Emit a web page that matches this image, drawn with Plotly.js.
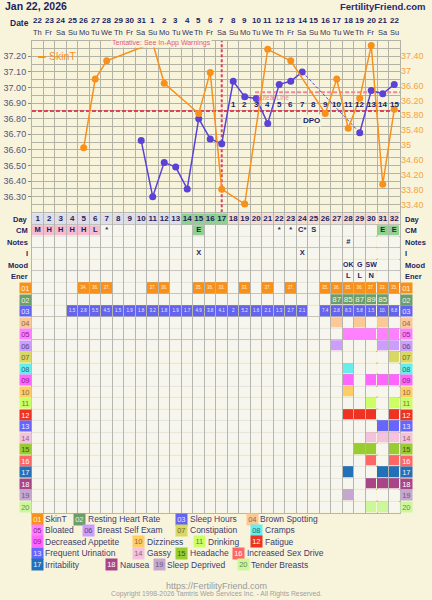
<!DOCTYPE html>
<html><head><meta charset="utf-8">
<script src="https://cdn.plot.ly/plotly-3.0.1.min.js"></script>
<style>html,body{margin:0;padding:0;background:#f8f4dc;}#chart{width:432px;height:600px;}</style>
</head><body><div id="chart"></div>
<script>
// ---------------- DATA ----------------
const chartTitle = 'Jan 22, 2026';
const siteName = 'FertilityFriend.com';
const days = [1,2,3,4,5,6,7,8,9,10,11,12,13,14,15,16,17,18,19,20,21,22,23,24,25,26,27,28,29,30,31,32];
const dates = ['22','23','24','25','26','27','28','29','30','31','1','2','3','4','5','6','7','8','9','10','11','12','13','14','15','16','17','18','19','20','21','22'];
const weekdays = ['Th','Fr','Sa','Su','Mo','Tu','We','Th','Fr','Sa','Su','Mo','Tu','We','Th','Fr','Sa','Su','Mo','Tu','We','Th','Fr','Sa','Su','Mo','Tu','We','Th','Fr','Sa','Su'];
const bbt = [null,null,null,null,null,null,null,null,null,36.66,36.30,36.52,36.49,36.35,36.80,36.67,36.64,37.04,36.94,36.93,36.77,37.02,37.04,37.10,null,null,null,null,36.71,36.98,36.96,37.02];
const skinT = [null,null,null,null,34.93,36.77,37.26,null,null,null,37.74,36.66,null,null,35.85,36.95,33.82,null,33.42,null,37.57,null,37.26,null,null,35.85,36.77,35.45,36.26,37.67,33.95,35.96];
const restingHR = [null,null,null,null,null,null,null,null,null,null,null,null,null,null,null,null,null,null,null,null,null,null,null,null,null,null,87,85,87,89,85,null];
const sleepHours = [null,null,null,1.5,2.8,5.5,4.5,1.5,1.9,1.8,3.2,1.8,1.9,1.7,4.9,3.8,4.1,2,5.2,1.6,2.1,1.3,2.7,2.1,null,7.4,2.8,8.3,5.8,1.5,10.2,6.8];
const cervicalMucus = ['M','H','H','H','H','L','*','','','','','','','','E','','','','','','','*','*','C*','S','','','','','','E','E'];
const notes = ['','','','','','','','','','','','','','','','','','','','','','','','','','','','#','','','',''];
const intercourse = ['','','','','','','','','','','','','','','X','','','','','','','','','X','','','','','','','',''];
const mood = ['','','','','','','','','','','','','','','','','','','','','','','','','','','','OK','G','SW','',''];
const energy = ['','','','','','','','','','','','','','','','','','','','','','','','','','','','L','L','N','',''];
const fertileDays = [14,15,16,17];
const ovulationDay = 17;
const coverline = 36.85;
const lutealLine = 36.97;
const lutealLineStart = 20;
const leftTickText = ['36.30','36.40','36.50','36.60','36.70','36.80','36.90','37.00','37.10','37.20'];
const rightTickText = ['33.40','33.80','34.20','34.60','35','35.40','35.80','36.20','36.60','37','37.40'];
const rowLabels = ['Day','CM','Notes','I','Mood','Ener'];
const symptomNames = ['SkinT','Resting Heart Rate','Sleep Hours','Brown Spotting','Bloated','Breast Self Exam','Constipation','Cramps','Decreased Appetite','Dizziness','Drinking','Fatigue','Frequent Urination','Gassy','Headache','Increased Sex Drive','Irritability','Nausea','Sleep Deprived','Tender Breasts'];
const symptomDays = {
  '04':[27,29,31], '05':[28,29,30,31,32], '06':[27,31,32], '07':[32], '08':[28],
  '09':[28,30,31,32], '10':[28], '11':[30,32], '12':[28,29,30,32], '13':[31,32],
  '14':[30,31,32], '15':[29,30,32], '16':[30,32], '17':[28,31,32], '18':[30,31,32],
  '19':[28], '20':[30,31]
};
const footerUrl = 'https://FertilityFriend.com';
const copyright = 'Copyright 1998-2026 Tamtris Web Services Inc. - All Rights Reserved.';

// ---------------- STYLE ----------------
const F = 'Liberation Sans, Arial, sans-serif';
const BG = '#f8f4dc';
const GRID = '#b2b2a6';
const TGRID = '#b6b6b0';
const NAVY = '#1e1e5e';
const ORANGE = '#f8901c';
const BLUE = '#5a42d6';
const RED = '#e0405a';
const symColors = ['#f8901c','#6c9e6c','#6464ee','#fcc896','#ff80ff','#cc9cff','#d8d862','#66eeee','#ff66ff','#ffcc66','#ccff66','#ee3322','#6666ff','#f4c2dc','#99cc33','#ff6666','#2271b8','#aa4488','#c4a8d0','#ccf899'];
const symTextColors = ['#fff0dd','#e8f2e8','#e8e8ff','#8a6a50','#8a208a','#5a4a7a','#6a6a30','#2a6a6a','#8a208a','#8a6a40','#6a7a40','#ffffff','#e8e8ff','#8a6a7a','#3a5a10','#ffffff','#e8f0ff','#ffffff','#6a5a7a','#6a8a5a'];
const W = 432, H = 600;
const px = x => x / W, py = y => 1 - y / H;
const colLeft = 31.95, colRight = 400;
const chartTop = 40.7, chartBottom = 212.3, tableTop = 213.25, tableBottom = 512.75;

// ---------------- TRACES ----------------
const traces = [];
traces.push({x: days, y: skinT, xaxis:'x', yaxis:'y2', mode:'lines+markers', connectgaps:true,
  line:{color:ORANGE, width:1.5}, marker:{color:ORANGE, size:7}, hoverinfo:'skip'});
traces.push({x: days, y: bbt, xaxis:'x', yaxis:'y', mode:'lines+markers', connectgaps:false,
  line:{color:BLUE, width:1.5}, marker:{color:BLUE, size:7}, hoverinfo:'skip'});
for (let i = 0; i < bbt.length - 1; i++) {
  if (bbt[i] !== null && bbt[i+1] === null) {
    let j = i + 1;
    while (j < bbt.length && bbt[j] === null) j++;
    if (j < bbt.length) {
      traces.push({x:[days[i], days[j]], y:[bbt[i], bbt[j]], xaxis:'x', yaxis:'y', mode:'lines',
        line:{color:BLUE, width:1, dash:'3px,2px'}, hoverinfo:'skip'});
    }
  }
}

const palette = ['#f6f6ef','#dedee8','#f2dcd2','#8fd18f','#f5bcd0'].concat(symColors);
const N = palette.length;
const colorscale = [];
palette.forEach((c, i) => { colorscale.push([i / N, c]); colorscale.push([(i + 1) / N, c]); });
const nRows = 26;
const z = [];
for (let r = 0; r < nRows; r++) {
  const row = [];
  for (let c = 0; c < days.length; c++) {
    const d = days[c];
    let v = 0;
    if (r === 0) v = fertileDays.includes(d) ? 3 : (d > ovulationDay ? 2 : 1);
    else if (r === 1) { const s = cervicalMucus[c]; v = s === 'E' ? 3 : (['M','H','L'].includes(s) ? 4 : 0); }
    else if (r === 6) v = skinT[c] !== null ? 5 : 0;
    else if (r === 7) v = restingHR[c] !== null ? 6 : 0;
    else if (r === 8) v = sleepHours[c] !== null ? 7 : 0;
    else if (r >= 9) { const key = String(r - 5).padStart(2,'0'); v = symptomDays[key].includes(d) ? (4 + (r - 5)) : 0; }
    row.push(v);
  }
  z.push(row);
}
const rowIdx = []; for (let r = 0; r < nRows; r++) rowIdx.push(r);
traces.push({type:'heatmap', x: days, y: rowIdx, z: z, xaxis:'x2', yaxis:'y3', colorscale: colorscale,
  zmin:-0.5, zmax:N-0.5, showscale:false, xgap:1, ygap:1, hoverinfo:'skip'});

function textRow(rowIndex, arr, font) {
  const xs = [], ys = [], ts = [];
  arr.forEach((t, i) => { if (t !== null && t !== '') { xs.push(days[i]); ys.push(rowIndex); ts.push(String(t)); } });
  traces.push({x: xs, y: ys, text: ts, mode:'text', xaxis:'x2', yaxis:'y3', textposition:'middle center',
    textfont: font, hoverinfo:'skip'});
}
textRow(0, days, {family:F, size:8, color:NAVY, weight:'bold'});
textRow(1, cervicalMucus, {family:F, size:7.5, color:NAVY, weight:'bold'});
textRow(2, notes, {family:F, size:7.5, color:NAVY, weight:'bold'});
textRow(3, intercourse, {family:F, size:7.5, color:NAVY, weight:'bold'});
textRow(4, mood, {family:F, size:7, color:NAVY, weight:'bold'});
textRow(5, energy, {family:F, size:7.5, color:NAVY, weight:'bold'});
textRow(6, skinT.map(v => v === null ? null : Math.floor(v) + '.'), {family:F, size:4.5, color:'#fff0dc'});
textRow(7, restingHR, {family:F, size:8, color:'#eef4ea'});
textRow(8, sleepHours.map(v => v === null ? null : String(v).slice(0,3)), {family:F, size:4.5, color:'#ececff'});

// ---------------- ANNOTATIONS ----------------
const ann = [];
ann.push({xref:'paper', yref:'paper', x:px(3), y:py(6), xanchor:'left', yanchor:'middle', text:'<b>'+chartTitle+'</b>', showarrow:false, font:{family:F, size:10.5, color:NAVY}});
ann.push({xref:'paper', yref:'paper', x:px(428), y:py(6), xanchor:'right', yanchor:'middle', text:'<b>'+siteName+'</b>', showarrow:false, font:{family:F, size:9.5, color:'#2a2a6e'}});
ann.push({xref:'paper', yref:'paper', x:px(31), y:py(23), xanchor:'right', yanchor:'middle', text:'<b>Date</b>', showarrow:false, font:{family:F, size:8.5, color:NAVY}});
days.forEach((d, i) => {
  ann.push({xref:'x', yref:'paper', x:d, y:py(20.5), xanchor:'center', yanchor:'middle', text:'<b>'+dates[i]+'</b>', showarrow:false, font:{family:F, size:8, color:NAVY}});
  ann.push({xref:'x', yref:'paper', x:d, y:py(32), xanchor:'center', yanchor:'middle', text:weekdays[i], showarrow:false, font:{family:F, size:7.5, color:'#333355'}});
});
days.forEach(d => {
  if (d > ovulationDay) ann.push({xref:'x', yref:'y', x:d, y:36.893, xanchor:'center', yanchor:'middle', text:'<b>'+(d-ovulationDay)+'</b>', showarrow:false, font:{family:F, size:8, color:NAVY}});
});
ann.push({xref:'x', yref:'y', x:24.8, y:36.79, xanchor:'center', yanchor:'middle', text:'<b>DPO</b>', showarrow:false, bgcolor:BG, borderpad:1, font:{family:F, size:8, color:NAVY}});
ann.push({xref:'x', yref:'y', x:lutealLineStart - 0.1, y:36.937, xanchor:'left', yanchor:'middle', text:'Luteal Line', showarrow:false, font:{family:F, size:6.5, color:'rgba(235,90,120,0.75)'}});
ann.push({xref:'paper', yref:'paper', x:px(161), y:py(43.3), xanchor:'center', yanchor:'middle', text:'Tentative: See In-App Warnings', showarrow:false, bgcolor:BG, borderpad:0, font:{family:F, size:7, color:'#e05a70'}});
ann.push({xref:'paper', yref:'paper', x:px(46.5), y:py(56.5), xanchor:'left', yanchor:'middle', text:'SkinT', showarrow:false, font:{family:F, size:10.5, color:ORANGE}});
rowLabels.forEach((t, r) => {
  ann.push({xref:'paper', yref:'y3', x:px(30.5), y:r, xanchor:'right', yanchor:'middle', text:'<b>'+t+'</b>', showarrow:false, font:{family:F, size:7.5, color:NAVY}});
  ann.push({xref:'paper', yref:'y3', x:px(402.5), y:r, xanchor:'left', yanchor:'middle', text:'<b>'+t+'</b>', showarrow:false, font:{family:F, size:7.5, color:NAVY}});
});
symptomNames.forEach((name, k) => {
  const num = String(k + 1).padStart(2, '0');
  const r = 6 + k;
  [25.3, 406.2].forEach(cx => {
    ann.push({xref:'paper', yref:'y3', x:px(cx), y:r, xanchor:'center', yanchor:'middle', text:num, showarrow:false,
      bgcolor:symColors[k], width:10.7, height:10, borderpad:0, font:{family:F, size:7.5, color:symTextColors[k]}});
  });
});
const legendRowsY = [519, 530.3, 541.7, 553.2, 564.8];
const legendBoxX = [[31.7,74.3,176,246.7],[31.7,83.3,176,251],[31.7,133.3,194,251],[31.7,133.3,176,233.3],[31.7,106,153.7,237.7]];
symptomNames.forEach((name, k) => {
  const row = Math.floor(k / 4), col = k % 4;
  const bx = legendBoxX[row][col], by = legendRowsY[row];
  ann.push({xref:'paper', yref:'paper', x:px(bx + 5.3), y:py(by), xanchor:'center', yanchor:'middle', text:String(k+1).padStart(2,'0'), showarrow:false,
    bgcolor:symColors[k], width:10.7, height:10.5, borderpad:0, font:{family:F, size:7.5, color:symTextColors[k]}});
  ann.push({xref:'paper', yref:'paper', x:px(bx + 11.5), y:py(by), xanchor:'left', yanchor:'middle', text:name, showarrow:false, font:{family:F, size:8.5, color:'#3c3c6c'}});
});
ann.push({xref:'paper', yref:'paper', x:0.5, y:py(585.5), xanchor:'center', yanchor:'middle', text:footerUrl, showarrow:false, font:{family:F, size:9, color:'#9a9a9a'}});
ann.push({xref:'paper', yref:'paper', x:0.5, y:py(594.3), xanchor:'center', yanchor:'middle', text:copyright, showarrow:false, font:{family:F, size:6.8, color:'#a0a0a0'}});

// ---------------- SHAPES ----------------
const shapes = [
  {type:'rect', xref:'paper', yref:'paper', x0:px(36.5), x1:px(76), y0:py(62), y1:py(50), layer:'between', fillcolor:BG, line:{width:0}},
  {type:'line', xref:'x', yref:'y', x0:0.5, x1:32.5, y0:coverline, y1:coverline, layer:'between', line:{color:RED, width:2, dash:'4px,2px'}},
  {type:'line', xref:'x', yref:'y', x0:lutealLineStart - 0.1, x1:32.5, y0:lutealLine, y1:lutealLine, layer:'between', line:{color:'#f0889c', width:2, dash:'4px,2px'}},
  {type:'line', xref:'x', yref:'y', x0:ovulationDay, x1:ovulationDay, y0:36.2, y1:37.3, layer:'between', line:{color:RED, width:2, dash:'3px,2px'}},
  {type:'line', xref:'paper', yref:'paper', x0:px(38), x1:px(45.5), y0:py(57), y1:py(57), line:{color:ORANGE, width:2}}
];

// ---------------- LAYOUT ----------------
const leftTickVals = leftTickText.map(Number);
const rightTickVals = rightTickText.map(Number);
const layout = {
  width:W, height:H, margin:{l:0, r:0, t:0, b:0}, paper_bgcolor:BG, plot_bgcolor:BG, showlegend:false,
  font:{family:F, size:9, color:'#333'},
  xaxis:{domain:[px(colLeft), px(colRight)], range:[0.5, 32.5], anchor:'y', tickmode:'linear', tick0:0.5, dtick:1,
    showticklabels:false, ticks:'', showgrid:true, gridcolor:GRID, gridwidth:1, zeroline:false, showline:true, mirror:true, linecolor:GRID, linewidth:1},
  yaxis:{domain:[py(chartBottom), py(chartTop)], range:[36.2, 37.3], anchor:'x', tickmode:'array', tickvals:leftTickVals, ticktext:leftTickText,
    ticks:'outside', ticklen:3, tickcolor:'#8a8a8a', tickfont:{family:F, size:9, color:'#55557a'}, showgrid:true, gridcolor:GRID, gridwidth:1,
    minor:{tickmode:'linear', tick0:36.2, dtick:0.05, showgrid:true, gridcolor:GRID, gridwidth:1, ticks:''},
    zeroline:false, showline:true, mirror:true, linecolor:GRID, linewidth:1},
  yaxis2:{overlaying:'y', side:'right', anchor:'x', range:[33.2, 37.8], tickmode:'array', tickvals:rightTickVals, ticktext:rightTickText,
    ticks:'', tickfont:{family:F, size:9, color:'#f7a040'}, showgrid:false, zeroline:false, showline:false},
  xaxis2:{domain:[px(colLeft), px(colRight)], range:[0.5, 32.5], anchor:'y3', tickmode:'linear', tick0:0.5, dtick:1,
    showticklabels:false, ticks:'', showgrid:true, gridcolor:TGRID, gridwidth:1, zeroline:false, showline:true, mirror:true, linecolor:TGRID},
  yaxis3:{domain:[py(tableBottom), py(tableTop)], range:[25.5, -0.5], anchor:'x2', tickmode:'linear', tick0:0.5, dtick:1,
    showticklabels:false, ticks:'', showgrid:true, gridcolor:TGRID, gridwidth:1, zeroline:false, showline:true, mirror:true, linecolor:TGRID},
  shapes: shapes,
  annotations: ann
};
Plotly.newPlot('chart', traces, layout, {displayModeBar:false, staticPlot:true});
</script>
</body></html>
